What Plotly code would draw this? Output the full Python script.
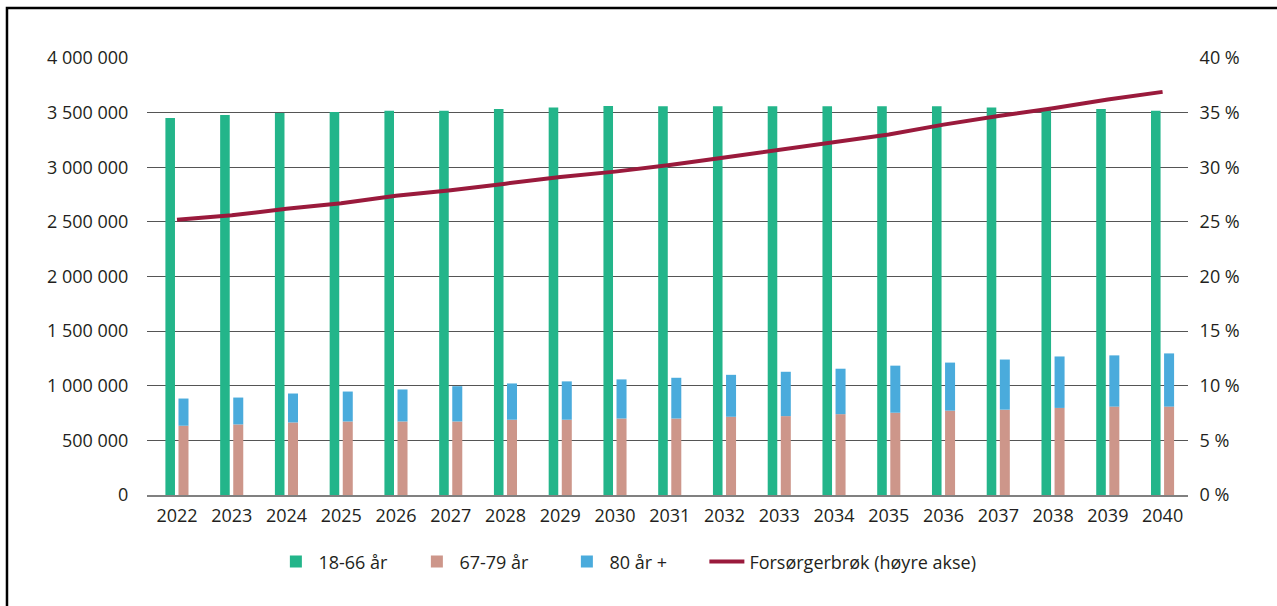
import plotly.graph_objects as go

years = [str(y) for y in range(2022, 2041)]
age_18_66 = [3450000, 3479000, 3497000, 3506000, 3518000, 3518000, 3534000, 3546000, 3560000, 3558000,
             3558000, 3558000, 3558000, 3558000, 3558000, 3546000, 3534000, 3534000, 3518000]
age_67_79 = [634000, 646000, 664000, 673000, 673000, 673000, 689000, 689000, 700000, 700000,
             716000, 722000, 740000, 753000, 772000, 781000, 797000, 809000, 809000]
age_80_plus = [249000, 246000, 265000, 274000, 293000, 323000, 332000, 351000, 358000, 373000,
               384000, 406000, 416000, 431000, 440000, 459000, 471000, 469000, 487000]
forsorgerbrok = [25.2, 25.6, 26.2, 26.7, 27.4, 27.9, 28.5, 29.1, 29.6, 30.2,
                 30.9, 31.6, 32.3, 33.0, 33.9, 34.7, 35.4, 36.2, 36.9]

GREEN = "#23b58a"
BROWN = "#cd968a"
BLUE = "#4aabdc"
RED = "#9a1a3c"
TXT = "#231f20"
FONT = "Open Sans"

fig = go.Figure()
fig.add_trace(go.Bar(x=years, y=age_18_66, name="18-66 år", marker_color=GREEN,
                     offset=-0.212, width=0.175, marker_line_width=0, legendwidth=91))
fig.add_trace(go.Bar(x=years, y=age_67_79, name="67-79 år", marker_color=BROWN,
                     offset=0.027, width=0.183, marker_line_width=0, legendwidth=100))
fig.add_trace(go.Bar(x=years, y=age_80_plus, base=age_67_79, name="80 år +", marker_color=BLUE,
                     offset=0.027, width=0.183, marker_line_width=0, legendwidth=90))
fig.add_trace(go.Scatter(x=years, y=forsorgerbrok, name="Forsørgerbrøk (høyre akse)", mode="lines",
                         line=dict(color=RED, width=4), yaxis="y2"))

fig.update_layout(
    width=1277, height=606,
    barmode="overlay",
    separators=", ",
    paper_bgcolor="white", plot_bgcolor="white",
    margin=dict(l=147, r=89, t=58, b=111),
    font=dict(family=FONT, size=18, color=TXT),
    showlegend=True,
    legend=dict(orientation="h", x=0.1214, xanchor="left", y=-0.153, yanchor="middle",
                font=dict(size=18, color=TXT), traceorder="normal", itemwidth=35),
    xaxis=dict(type="category", range=[-0.548, 18.464], showgrid=False, showline=True,
               linecolor="#808080", linewidth=1.5, ticks="outside", ticklen=4,
               tickcolor="rgba(0,0,0,0)", tickfont=dict(size=18)),
    yaxis=dict(range=[0, 4000000], dtick=500000, tickformat=",d", gridcolor="#555555",
               gridwidth=1, zeroline=False, showline=False, ticks="outside", ticklen=14,
               tickcolor="rgba(0,0,0,0)", tickfont=dict(size=18)),
    yaxis2=dict(range=[0, 40], dtick=5, ticksuffix=" %", overlaying="y", side="right",
                showgrid=False, zeroline=False, showline=False, ticks="outside", ticklen=7,
                tickcolor="rgba(0,0,0,0)", tickfont=dict(size=18)),
    shapes=[dict(type="rect", xref="paper", yref="paper", x0=-0.1345, x1=1.3, y0=-0.4, y1=1.1144,
                 line=dict(color="black", width=2.5), fillcolor="rgba(0,0,0,0)", layer="above")],
)

fig.write_html("out.html", config={"displayModeBar": False},
               post_script="document.body.style.margin='0';document.body.style.overflow='hidden';")
